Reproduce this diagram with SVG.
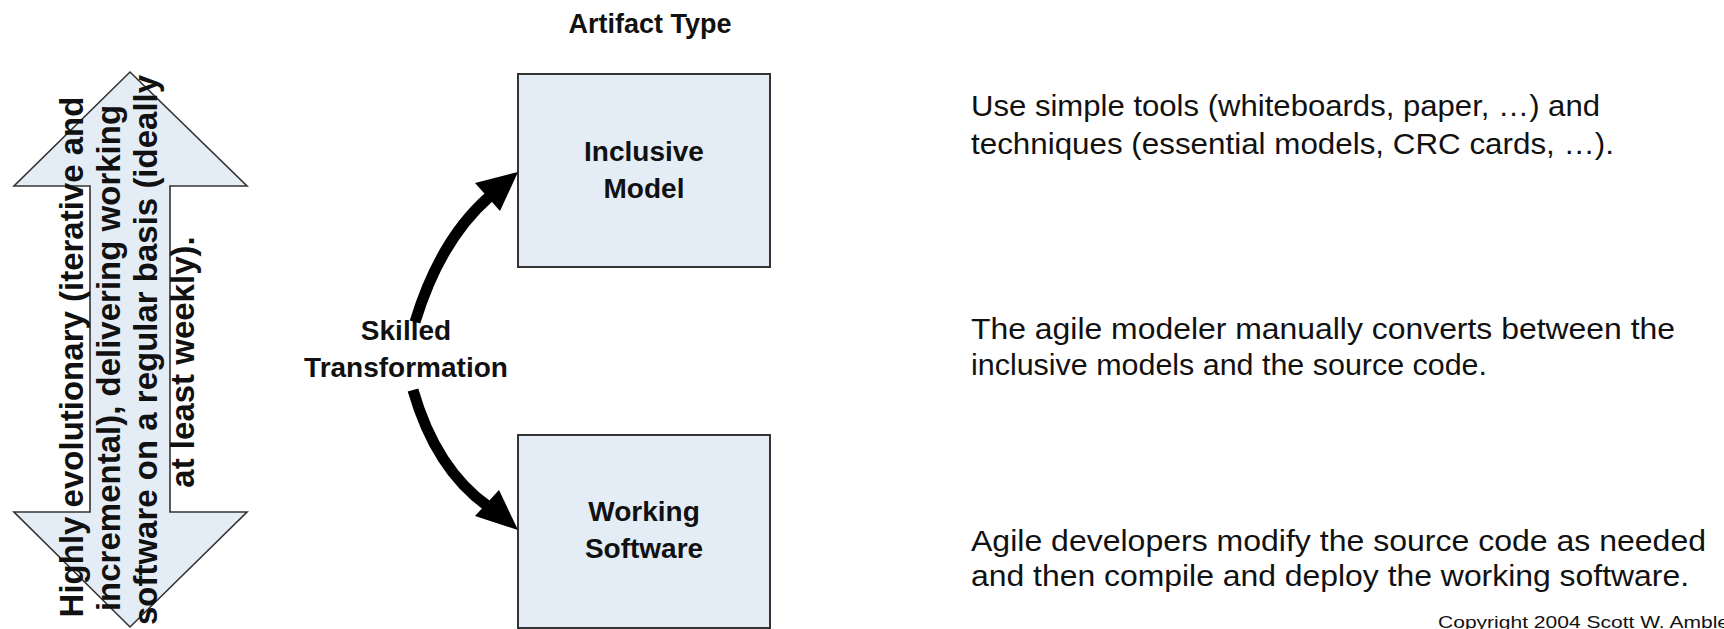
<svg xmlns="http://www.w3.org/2000/svg" width="1724" height="629" viewBox="0 0 1724 629">
<style>
.bg{fill:#ffffff}
.box{fill:#e4ecf6;stroke:#333333;stroke-width:2}
.dbl{fill:#e4ecf6;stroke:#333333;stroke-width:1.6;stroke-linejoin:miter}
.bold{font-family:"Liberation Sans",Arial,sans-serif;font-weight:bold;fill:#111111}
.reg{font-family:"Liberation Sans",Arial,sans-serif;fill:#111111}
.shaft{fill:none;stroke:#000000;stroke-width:11}
.head{fill:#000000}
</style>
<rect class="bg" x="0" y="0" width="1724" height="629"/>

<g id="evolution-arrow">
  <polygon class="dbl" points="130,72 247,186 170,186 170,512 247,512 130,627 14,512 90,512 90,186 14,186"/>
  <g class="bold" font-size="33" text-anchor="middle">
    <text transform="translate(83,357) rotate(-90)">Highly evolutionary (iterative and</text>
    <text transform="translate(120,358) rotate(-90)">incremental), delivering working</text>
    <text transform="translate(157,350) rotate(-90)">software on a regular basis (ideally</text>
    <text transform="translate(194,362) rotate(-90)">at least weekly).</text>
  </g>
</g>

<g id="artifact-type-title">
  <text class="bold" x="650" y="33" font-size="27" text-anchor="middle">Artifact Type</text>
</g>

<g id="inclusive-model">
  <rect class="box" x="518" y="74" width="252" height="193"/>
  <text class="bold" x="644" y="161" font-size="28" text-anchor="middle">Inclusive</text>
  <text class="bold" x="644" y="198" font-size="28" text-anchor="middle">Model</text>
</g>

<g id="working-software">
  <rect class="box" x="518" y="435" width="252" height="193"/>
  <text class="bold" x="644" y="521" font-size="28" text-anchor="middle">Working</text>
  <text class="bold" x="644" y="558" font-size="28" text-anchor="middle">Software</text>
</g>

<g id="skilled-transformation">
  <text class="bold" x="406" y="340" font-size="28" text-anchor="middle">Skilled</text>
  <text class="bold" x="406" y="377" font-size="28" text-anchor="middle">Transformation</text>
</g>

<g id="connectors">
  <path class="shaft" d="M 415 322 Q 440 240 489 197"/>
  <polygon class="head" points="518,172 500,211 475,183"/>
  <path class="shaft" d="M 413 390 Q 436 470 489 507"/>
  <polygon class="head" points="518,530 499,490 475,516"/>
</g>

<g id="note-inclusive-model">
  <text class="reg" x="971" y="116" font-size="30" textLength="629" lengthAdjust="spacingAndGlyphs">Use simple tools (whiteboards, paper, …) and</text>
  <text class="reg" x="971" y="154" font-size="30" textLength="643" lengthAdjust="spacingAndGlyphs">techniques (essential models, CRC cards, …).</text>
</g>

<g id="note-transformation">
  <text class="reg" x="971" y="339" font-size="30" textLength="704" lengthAdjust="spacingAndGlyphs">The agile modeler manually converts between the</text>
  <text class="reg" x="971" y="375" font-size="30" textLength="516" lengthAdjust="spacingAndGlyphs">inclusive models and the source code.</text>
</g>

<g id="note-working-software">
  <text class="reg" x="971" y="551" font-size="30" textLength="735" lengthAdjust="spacingAndGlyphs">Agile developers modify the source code as needed</text>
  <text class="reg" x="971" y="586" font-size="30" textLength="718" lengthAdjust="spacingAndGlyphs">and then compile and deploy the working software.</text>
</g>

<g id="copyright">
  <text class="reg" x="1438" y="628" font-size="17" textLength="298" lengthAdjust="spacingAndGlyphs">Copyright 2004 Scott W. Ambler</text>
</g>
</svg>
